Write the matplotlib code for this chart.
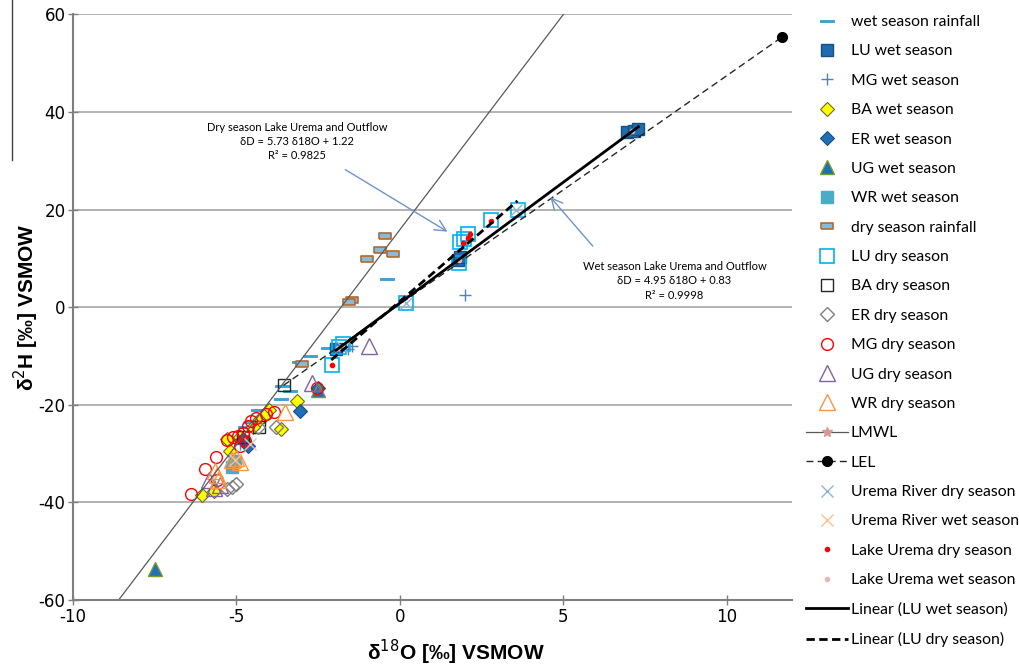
import matplotlib
matplotlib.use("Agg")
import matplotlib.pyplot as plt
from matplotlib.lines import Line2D

plt.rcParams["axes.unicode_minus"] = False

# ---- data (delta18O, delta2H) ----
wet_rain_x = [-0.4, -2.2, -2.75, -3.1, -3.6, -3.35, -3.65, -4.35, -4.55, -4.75, -5.0]
wet_rain_y = [5.8, -8.3, -9.9, -11.3, -16.2, -17.2, -18.8, -21.0, -23.5, -24.5, -27.0]

lu_wet_x = [1.77, 1.85, -1.94, 6.95, 7.15, 7.3]
lu_wet_y = [9.6, 10.3, -8.5, 35.9, 36.2, 36.5]

mg_wet_x = [2.0, -1.45, -1.6, -4.9]
mg_wet_y = [2.5, -8.0, -8.5, -28.0]

ba_wet_x = [-3.15, -3.65, -4.0, -4.15, -4.3, -5.3, -5.2, -5.7, -6.05, -4.5, -4.9]
ba_wet_y = [-19.2, -25.0, -21.1, -22.3, -23.2, -27.1, -29.5, -37.6, -38.5, -24.5, -26.5]

er_wet_x = [-3.07, -4.65, -4.8, -2.5]
er_wet_y = [-21.3, -28.5, -27.0, -16.5]

ug_wet_x = [-7.5, -2.5]
ug_wet_y = [-53.7, -17.0]

wr_wet_x = [-5.15, -5.05]
wr_wet_y = [-32.8, -31.5]

dry_rain_x = [-0.45, -0.6, -0.2, -1.0, -1.45, -1.55, -3.0]
dry_rain_y = [14.6, 11.7, 11.0, 9.8, 1.5, 1.0, -11.7]

lu_dry_x = [0.2, -1.75, -1.85, -2.08, 1.85, 1.95, 2.1, 2.8, 3.6, 1.8]
lu_dry_y = [0.9, -7.6, -8.2, -11.9, 13.3, 13.9, 15.0, 17.8, 20.0, 9.0]

ba_dry_x = [-3.55, -4.3, -4.8]
ba_dry_y = [-16.0, -24.5, -26.5]

er_dry_x = [-5.3, -5.15, -5.0, -3.8, -4.35]
er_dry_y = [-37.3, -36.8, -36.2, -24.5, -24.6]

mg_dry_x = [-6.4, -5.95, -5.63, -5.6, -5.3, -5.1, -4.95, -4.8, -4.65, -4.55, -4.4, -4.1, -3.85, -2.55, -4.9, -4.75]
mg_dry_y = [-38.2, -33.2, -30.7, -35.4, -27.3, -26.6, -26.3, -25.8, -24.3, -23.3, -22.6, -21.8, -21.5, -16.6, -28.5, -27.5]

ug_dry_x = [-0.95, -2.7, -5.85, -5.7, -5.5]
ug_dry_y = [-8.0, -15.5, -35.3, -37.0, -36.5]

wr_dry_x = [-3.5, -5.0, -5.15, -4.9, -5.65, -5.55, -5.6]
wr_dry_y = [-21.5, -30.8, -31.2, -31.7, -33.5, -35.5, -34.3]

lmwl_x = [-10, 6]
lmwl_y = [-72.3, 68.8]

lel_x = [-3.56, 11.7]
lel_y = [-16.0, 55.4]

ur_dry_x = [0.2, 3.55, -1.8]
ur_dry_y = [0.9, 20.0, -8.0]

ur_wet_x = [-5.05, -4.6]
ur_wet_y = [-31.2, -28.0]

lake_dry_x = [1.92, 2.07, 2.16, 2.8, -2.07]
lake_dry_y = [13.2, 14.1, 15.0, 17.7, -11.9]

lake_wet_x = [1.8, 7.1, -1.9]
lake_wet_y = [9.7, 36.2, -8.4]

fit_wet_x = [-1.95, 7.3]
fit_wet_y = [-8.8, 37.0]

fit_dry_x = [-2.1, 3.6]
fit_dry_y = [-10.8, 21.8]

# custom bar-shaped markers for the rainfall series
dash_mk = [(-1, -0.2), (1, -0.2), (1, 0.2), (-1, 0.2), (-1, -0.2)]
rect_mk = [(-1, -0.5), (1, -0.5), (1, 0.5), (-1, 0.5), (-1, -0.5)]

fig = plt.figure(figsize=(10.2, 6.65), dpi=100)
ax = fig.add_axes([0.0716, 0.0977, 0.7049, 0.8805])

ax.plot(wet_rain_x, wet_rain_y, ls="none", marker=dash_mk, ms=10, mfc="#33A6DC", mec="#2A8CC0", mew=0.5, label="wet season rainfall")
ax.plot(lu_wet_x, lu_wet_y, ls="none", marker="s", ms=9, mfc="#1F6DB0", mec="#17507F", mew=1, label="LU wet season")
ax.plot(mg_wet_x, mg_wet_y, ls="none", marker="+", ms=9, mec="#4F81BD", mew=1, label="MG wet season")
ax.plot(ba_wet_x, ba_wet_y, ls="none", marker="D", ms=7, mfc="#FFFF00", mec="#6B6B20", mew=0.8, label="BA wet season")
ax.plot(er_wet_x, er_wet_y, ls="none", marker="D", ms=7, mfc="#1F70B8", mec="#1A4E80", mew=0.8, label="ER wet season")
ax.plot(ug_wet_x, ug_wet_y, ls="none", marker="^", ms=10, mfc="#1F70B8", mec="#7A9A2A", mew=1, label="UG wet season")
ax.plot(wr_wet_x, wr_wet_y, ls="none", marker="s", ms=9, mfc="#4BACC6", mec="#4BACC6", mew=1, label="WR wet season")
ax.plot(dry_rain_x, dry_rain_y, ls="none", marker=rect_mk, ms=8.5, mfc="#8CB9D6", mec="#B06A2E", mew=1.2, label="dry season rainfall")
ax.plot(lu_dry_x, lu_dry_y, ls="none", marker="s", ms=9.5, mfc="none", mec="#00B0F0", mew=1.2, label="LU dry season")
ax.plot(ba_dry_x, ba_dry_y, ls="none", marker="s", ms=9, mfc="none", mec="#262626", mew=1, label="BA dry season")
ax.plot(er_dry_x, er_dry_y, ls="none", marker="D", ms=7, mfc="none", mec="#7F7F7F", mew=1, label="ER dry season")
ax.plot(mg_dry_x, mg_dry_y, ls="none", marker="o", ms=8.5, mfc="none", mec="#FF0000", mew=1, label="MG dry season")
ax.plot(ug_dry_x, ug_dry_y, ls="none", marker="^", ms=11, mfc="none", mec="#8064A2", mew=1, label="UG dry season")
ax.plot(wr_dry_x, wr_dry_y, ls="none", marker="^", ms=11, mfc="none", mec="#F79646", mew=1, label="WR dry season")
ax.plot(lmwl_x, lmwl_y, color="#595959", lw=0.9, marker="*", ms=7, mec="#D99694", mfc="#D99694", label="LMWL")
ax.plot(lel_x, lel_y, color="#262626", lw=1, ls=(0, (5, 3)), marker="o", ms=7, mfc="black", mec="black",
        markevery=[1], label="LEL")
ax.plot(ur_dry_x, ur_dry_y, ls="none", marker="x", ms=9, mec="#95B3D7", mew=1, label="Urema River dry season")
ax.plot(ur_wet_x, ur_wet_y, ls="none", marker="x", ms=9, mec="#FAC090", mew=1, label="Urema River wet season")
ax.plot(lake_dry_x, lake_dry_y, ls="none", marker="o", ms=3, mfc="#FF0000", mec="#FF0000", label="Lake Urema dry season")
ax.plot(lake_wet_x, lake_wet_y, ls="none", marker="o", ms=3, mfc="#E6B9B8", mec="#E6B9B8", label="Lake Urema wet season")
ax.plot(fit_wet_x, fit_wet_y, color="black", lw=2, label="Linear (LU wet season)")
ax.plot(fit_dry_x, fit_dry_y, color="black", lw=2, ls=(0, (3, 1.6)), label="Linear (LU dry season)")

# equation labels with arrows
ann_font = dict(family=["Lato", "DejaVu Sans"], fontsize=8, ha="center", va="center", linespacing=1.35)
ax.text(-3.15, 34.0, "Dry season Lake Urema and Outflow\nδD = 5.73 δ18O + 1.22\nR² = 0.9825", **ann_font)
ax.annotate("", xy=(1.53, 15.2), xytext=(-1.74, 28.5),
            arrowprops=dict(arrowstyle="->,head_length=0.8,head_width=0.4", color="#6F93C8", lw=1))
ax.text(8.4, 5.4, "Wet season Lake Urema and Outflow\nδD = 4.95 δ18O + 0.83\nR² = 0.9998", **ann_font)
ax.annotate("", xy=(4.55, 23.0), xytext=(5.96, 12.1),
            arrowprops=dict(arrowstyle="->,head_length=0.8,head_width=0.4", color="#6F93C8", lw=1))

ax.set_xlim(-10, 12)
ax.set_ylim(-60, 60)
ax.set_xticks([-10, -5, 0, 5, 10])
ax.set_yticks([-60, -40, -20, 0, 20, 40, 60])
ax.yaxis.grid(True, color="#A6A6A6", lw=1.2)
ax.set_axisbelow(True)
for s in ["top", "right"]:
    ax.spines[s].set_visible(False)
for s in ["left", "bottom"]:
    ax.spines[s].set_color("#7F7F7F")
    ax.spines[s].set_linewidth(1.5)
ax.tick_params(direction="inout", length=7, width=1, color="#7F7F7F", labelsize=12, pad=2)
for lab in ax.get_xticklabels() + ax.get_yticklabels():
    lab.set_family(["Liberation Sans Narrow", "DejaVu Sans"])

ax.set_xlabel("δ$^{18}$O [‰] VSMOW", fontsize=15, fontweight="bold", family=["Liberation Sans", "DejaVu Sans"])
ax.set_ylabel("δ$^{2}$H [‰] VSMOW", fontsize=15, fontweight="bold", family=["Liberation Sans", "DejaVu Sans"])
ax.xaxis.set_label_coords(0.533, -0.064)
ax.yaxis.set_label_coords(-0.045, 0.5)

# stray vertical rule left of the y label
fig.add_artist(Line2D([12 / 1020, 12 / 1020], [1.0, 1 - 160 / 665], color="#404040", lw=1))

fig.legend(loc="upper left", bbox_to_anchor=(806 / 1020, 1 - 15 / 665), frameon=False,
           prop={"family": ["Lato", "DejaVu Sans"], "size": 11.3}, labelspacing=0.98,
           handlelength=2.7, handletextpad=0.15, borderaxespad=0, borderpad=0)

fig.savefig("out.png", dpi=100)
